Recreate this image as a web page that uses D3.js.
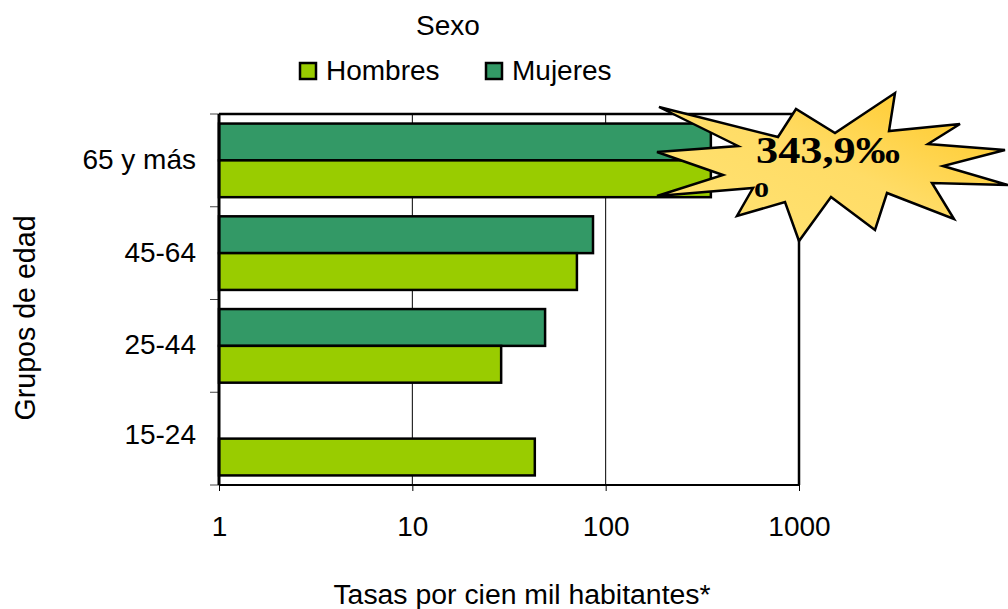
<!DOCTYPE html>
<html lang="es">
  <head>
    <meta charset="utf-8">
    <title>Tasas por grupos de edad y sexo</title>
    <script src="https://d3js.org/d3.v7.min.js"></script>
    <style>
      html, body { margin: 0; padding: 0; background: white; }
      svg { display: block; }
      text { font-family: "Liberation Sans", Arial, sans-serif; font-size: 28px; fill: black; }
      .domain { display: none; }
    </style>
  </head>
  <body>
    <svg width="1008" height="609"></svg>
    <script>
      // top band first, same order as the picture
      var grupos = ["65 y más", "45-64", "25-44", "15-24"];
      var sexos = ["Mujeres", "Hombres"];
      var mujeres = [350, 86, 48.6, null];
      var hombres = [350, 71, 28.8, 43];
      var ticksX = [1, 10, 100, 1000];
      var colores = {Hombres: "#99cc00", Mujeres: "#339966"};
      var leyenda = ["Hombres", "Mujeres"];
      // outline of the callout, in pixels
      var estrella = [[659,107],[778,137],[796,109],[835,133],[895,93],[889,131],[960,124],[928,144],
        [1005,150],[943,166],[1008,185],[932,183],[954,219],[887,193],[875,230],[831,197],
        [799,241],[785,202],[737,216],[753,188],[657,196],[723,175],[657,152],[738,146]];

      var left = 219, right = 799, top_ = 114, bottom = 485;
      var svg = d3.select("svg");

      var x = d3.scaleLog().domain([1, 1000]).range([left, right]);
      var y = d3.scaleBand().domain(grupos).range([top_, bottom]);
      var ySexo = d3.scaleBand().domain(sexos).range([0, y.bandwidth()]).paddingOuter(0.26).paddingInner(0);

      // gridlines
      svg.append("g").selectAll("line").data([10, 100]).enter().append("line")
        .attr("x1", function(d) { return x(d); }).attr("x2", function(d) { return x(d); })
        .attr("y1", top_).attr("y2", bottom)
        .attr("stroke", "black").attr("stroke-width", 1);

      // frame, top and right
      svg.append("path")
        .attr("d", d3.line()([[left, top_], [right, top_], [right, bottom]]))
        .attr("fill", "none").attr("stroke", "black").attr("stroke-width", 2.5);

      // bars
      [["Mujeres", mujeres], ["Hombres", hombres]].forEach(function(serie) {
        svg.append("g").selectAll("rect").data(serie[1]).enter().filter(function(d) { return d != null; })
          .append("rect")
          .attr("x", left)
          .attr("y", function(d) { return y(grupos[serie[1].indexOf(d)]) + ySexo(serie[0]); })
          .attr("width", function(d) { return x(d) - left; })
          .attr("height", ySexo.bandwidth())
          .attr("fill", colores[serie[0]])
          .attr("stroke", "black").attr("stroke-width", 2.5);
      });

      // axes
      var ejeX = svg.append("g").attr("transform", "translate(0," + bottom + ")")
        .call(d3.axisBottom(x).tickValues(ticksX).tickFormat(d3.format("d")).tickSize(6).tickPadding(25));
      ejeX.attr("font-family", null).attr("font-size", null);
      ejeX.selectAll("text").attr("dy", "0.71em");
      var ejeY = svg.append("g").attr("transform", "translate(" + left + ",0)")
        .call(d3.axisLeft(y).tickSize(0).tickPadding(23));
      ejeY.attr("font-family", null).attr("font-size", null);
      ejeY.selectAll("text").attr("dy", "0.3em");
      // last label sits a little above its band centre
      ejeY.selectAll("text").filter(function(d) { return d == "15-24"; }).attr("dy", "0.2em");

      // y ticks sit on the band edges, not the band centres
      svg.append("g").selectAll("line").data(d3.range(grupos.length + 1)).enter().append("line")
        .attr("x1", left - 9).attr("x2", left)
        .attr("y1", function(d) { return top_ + d * y.step(); })
        .attr("y2", function(d) { return top_ + d * y.step(); })
        .attr("stroke", "#444").attr("stroke-width", 1);

      svg.append("line").attr("x1", left).attr("x2", left).attr("y1", top_).attr("y2", bottom)
        .attr("stroke", "black").attr("stroke-width", 3);
      svg.append("line").attr("x1", left).attr("x2", right).attr("y1", bottom).attr("y2", bottom)
        .attr("stroke", "black").attr("stroke-width", 2);

      // titles
      svg.append("text").attr("x", 448).attr("y", 35).attr("text-anchor", "middle").text("Sexo");
      svg.append("text").attr("x", 522).attr("y", 604).attr("text-anchor", "middle").style("font-size", "28.4px").text("Tasas por cien mil habitantes*");
      svg.append("text").attr("transform", "translate(35,318) rotate(-90)").attr("text-anchor", "middle").style("font-size", "28.6px").text("Grupos de edad");

      // legend
      var posLeyenda = d3.scalePoint().domain(leyenda).range([300, 486]);
      var itemLeyenda = svg.append("g").selectAll("g").data(leyenda).enter().append("g")
        .attr("transform", function(d) { return "translate(" + posLeyenda(d) + ",63)"; });
      itemLeyenda.append("rect").attr("width", 16).attr("height", 16)
        .attr("fill", function(d) { return colores[d]; })
        .attr("stroke", "black").attr("stroke-width", 2.5);
      itemLeyenda.append("text").attr("x", 26).attr("y", 17).text(function(d) { return d; });

      // callout
      var grad = svg.append("defs").append("linearGradient").attr("id", "brillo")
        .attr("x1", "10%").attr("y1", "90%").attr("x2", "90%").attr("y2", "20%");
      grad.append("stop").attr("offset", "0%").attr("stop-color", "#ffe272");
      grad.append("stop").attr("offset", "55%").attr("stop-color", "#ffdc66");
      grad.append("stop").attr("offset", "100%").attr("stop-color", "#ffcc33");
      svg.append("polygon")
        .attr("points", estrella.map(function(p) { return p.join(","); }).join(" "))
        .attr("fill", "url(#brillo)").attr("stroke", "black").attr("stroke-width", 2.5);
      svg.append("text").attr("x", 756).attr("y", 163)
        .attr("textLength", 144).attr("lengthAdjust", "spacingAndGlyphs")
        .style("font-family", "'Liberation Serif', serif").style("font-size", "38px").style("font-weight", "bold")
        .text("343,9‰");
      svg.append("text").attr("x", 754).attr("y", 197)
        .style("font-family", "'Liberation Serif', serif").style("font-size", "30px").style("font-weight", "bold")
        .text("o");
    </script>
  </body>
</html>
